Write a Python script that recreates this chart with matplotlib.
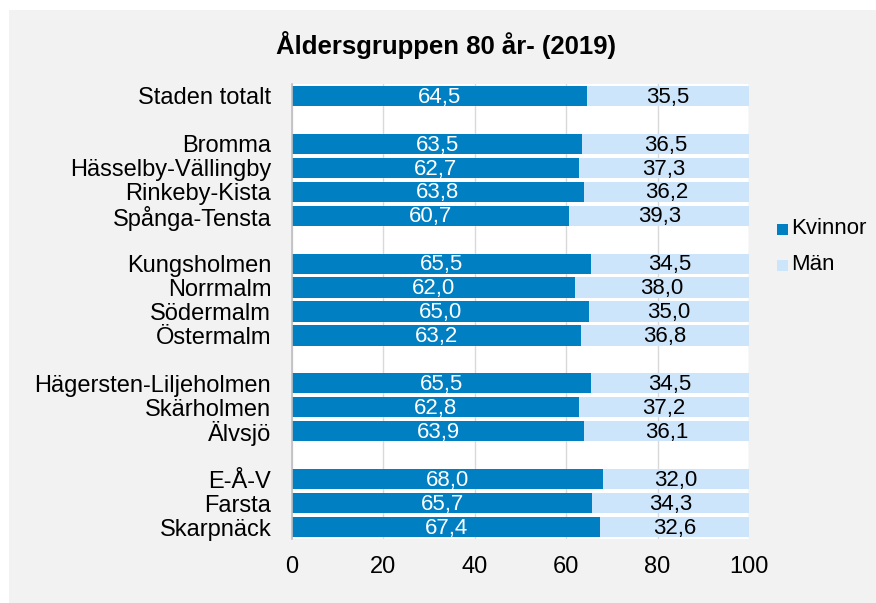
import matplotlib.pyplot as plt
import numpy as np
from matplotlib.patches import Rectangle

plt.rcParams['font.family'] = ['Liberation Sans', 'DejaVu Sans']

# Rows from top to bottom, None = blank spacer row
labels = ['Staden totalt', None,
          'Bromma', 'Hässelby-Vällingby', 'Rinkeby-Kista', 'Spånga-Tensta', None,
          'Kungsholmen', 'Norrmalm', 'Södermalm', 'Östermalm', None,
          'Hägersten-Liljeholmen', 'Skärholmen', 'Älvsjö', None,
          'E-Å-V', 'Farsta', 'Skarpnäck']
kvinnor = [64.5, None, 63.5, 62.7, 63.8, 60.7, None,
           65.5, 62.0, 65.0, 63.2, None,
           65.5, 62.8, 63.9, None,
           68.0, 65.7, 67.4]
man = [35.5, None, 36.5, 37.3, 36.2, 39.3, None,
       34.5, 38.0, 35.0, 36.8, None,
       34.5, 37.2, 36.1, None,
       32.0, 34.3, 32.6]
xticks = [0, 20, 40, 60, 80, 100]

c_k = '#007FC3'
c_m = '#CCE5FB'

fig = plt.figure(figsize=(8.76, 6.03), dpi=100)
fig.patch.set_facecolor('white')
fig.patches.append(Rectangle((9 / 876, 0), 1, 593 / 603, transform=fig.transFigure,
                             facecolor='#F2F2F2', edgecolor='none', zorder=-10))

ax = fig.add_axes([292 / 876, 1 - 539 / 603, 457 / 876, 455 / 603])
ax.set_facecolor('white')

idx = [i for i, l in enumerate(labels) if l is not None]
y = np.array(idx)
k = np.array([kvinnor[i] for i in idx])
m = np.array([man[i] for i in idx])
h = 0.84
ax.barh(y, k, height=h, color=c_k, zorder=2)
ax.barh(y, m, left=k, height=h, color=c_m, zorder=2)

for yi, kv, mv in zip(y, k, m):
    ax.text(kv / 2, yi + 0.05, f'{kv:.1f}'.replace('.', ','), ha='center', va='center',
            color='white', fontsize=16)
    ax.text(kv + mv / 2, yi + 0.05, f'{mv:.1f}'.replace('.', ','), ha='center', va='center',
            color='black', fontsize=16)

ax.set_ylim(len(labels) - 0.5, -0.5)
ax.set_xlim(0, 100)
ax.set_yticks(y)
ax.set_yticklabels([labels[i] for i in idx], fontsize=17)
ax.set_xticks(xticks)
ax.set_xticklabels([str(t) for t in xticks], fontsize=17)
ax.tick_params(axis='both', length=0)
ax.tick_params(axis='x', pad=12)
ax.tick_params(axis='y', pad=15)
ax.grid(axis='x', color='#D9D9D9', lw=1, zorder=0)
for s in ['top', 'right', 'bottom']:
    ax.spines[s].set_visible(False)
ax.spines['left'].set_color('#BFBFBF')
ax.spines['left'].set_linewidth(1.2)

fig.text(446 / 876, 1 - 45 / 603, 'Åldersgruppen 80 år- (2019)', ha='center', va='center',
         fontsize=18.5, fontweight='bold')

# legend
fig.patches.append(Rectangle((777 / 876, 1 - 235 / 603), 11 / 876, 11 / 603,
                             transform=fig.transFigure, facecolor=c_k, edgecolor='none'))
fig.text(791 / 876, 1 - 229 / 603, 'Kvinnor', ha='left', va='center', fontsize=16)
fig.patches.append(Rectangle((777 / 876, 1 - 271 / 603), 11 / 876, 11 / 603,
                             transform=fig.transFigure, facecolor=c_m, edgecolor='none'))
fig.text(791 / 876, 1 - 265 / 603, 'Män', ha='left', va='center', fontsize=16)

fig.savefig('out.png', dpi=100)
